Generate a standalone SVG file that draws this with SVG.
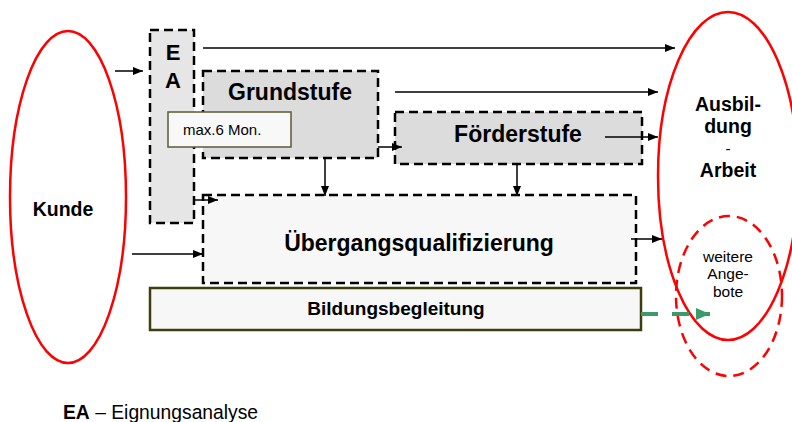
<svg xmlns="http://www.w3.org/2000/svg" width="792" height="422" viewBox="0 0 792 422">
<style>
text{font-family:"Liberation Sans",Arial,sans-serif;fill:#000}
.b{font-weight:bold}
.dbox{stroke:#000;stroke-width:2.5;stroke-dasharray:9 5}
.ln{stroke:#000;stroke-width:1.5;fill:none}
.red{fill:none;stroke:#ff0000;stroke-width:2.5}
</style>
<defs>
<marker id="ah" viewBox="0 0 10 8" refX="10" refY="4" markerWidth="10" markerHeight="8" markerUnits="userSpaceOnUse" orient="auto">
<path d="M0,0 L10,4 L0,8 Z" fill="#000"/>
</marker>
<marker id="gh" viewBox="0 0 14 12" refX="14" refY="6" markerWidth="14" markerHeight="12" markerUnits="userSpaceOnUse" orient="auto">
<path d="M0,0 L14,6 L0,12 Z" fill="#3a9a6a"/>
</marker>
</defs>
<rect width="792" height="422" fill="#fff"/>
<g id="kunde">
<ellipse cx="68" cy="197" rx="58" ry="166" class="red"/>
<text x="63" y="216" class="b" font-size="19.5" text-anchor="middle">Kunde</text>
</g>
<g id="ausbildung">
<ellipse cx="728" cy="176" rx="70" ry="164" class="red"/>
<text x="728" y="111" class="b" font-size="19.5" text-anchor="middle">Ausbil-</text>
<text x="728" y="133" class="b" font-size="19.5" text-anchor="middle">dung</text>
<text x="728" y="154" font-size="15" text-anchor="middle">-</text>
<text x="728" y="177" class="b" font-size="19.5" text-anchor="middle">Arbeit</text>
</g>
<g id="weitere">
<ellipse cx="729" cy="296" rx="53" ry="80" fill="none" stroke="#ff0000" stroke-width="2.5" stroke-dasharray="11 7"/>
<text x="728" y="262" font-size="15.5" text-anchor="middle">weitere</text>
<text x="728" y="279" font-size="15.5" text-anchor="middle">Ange-</text>
<text x="728" y="297" font-size="15.5" text-anchor="middle">bote</text>
</g>
<g id="ea">
<rect x="150" y="30" width="44" height="193" fill="#e6e6e6" class="dbox"/>
<text x="173" y="60" class="b" font-size="22" text-anchor="middle">E</text>
<text x="173" y="88" class="b" font-size="22" text-anchor="middle">A</text>
</g>
<g id="grundstufe">
<rect x="203" y="71" width="175" height="87" fill="#dcdcdc" class="dbox"/>
<text x="290" y="100" class="b" font-size="23" text-anchor="middle">Grundstufe</text>
</g>
<g id="maxmon">
<rect x="168" y="112" width="123" height="35" fill="#f8f8f8" stroke="#5a5a32" stroke-width="1.5"/>
<text x="183" y="135" font-size="15">max.6 Mon.</text>
</g>
<g id="foerderstufe">
<rect x="395" y="112" width="247" height="52" fill="#dcdcdc" class="dbox"/>
<text x="518" y="142" class="b" font-size="23" text-anchor="middle">Förderstufe</text>
</g>
<g id="uebergang">
<rect x="203" y="195" width="433" height="88" fill="#f7f7f7" class="dbox"/>
<text x="419" y="251" class="b" font-size="23" text-anchor="middle">Übergangsqualifizierung</text>
</g>
<g id="bildung">
<rect x="150" y="288" width="491" height="42" fill="#f7f7f7" stroke="#3d3d10" stroke-width="2.5"/>
<text x="396" y="315" class="b" font-size="19" text-anchor="middle">Bildungsbegleitung</text>
</g>
<g id="connectors">
<line x1="115" y1="71" x2="143" y2="71" class="ln" marker-end="url(#ah)"/>
<line x1="203" y1="48" x2="675" y2="48" class="ln" marker-end="url(#ah)"/>
<line x1="395" y1="92" x2="658" y2="92" class="ln" marker-end="url(#ah)"/>
<line x1="605" y1="137" x2="658" y2="137" class="ln" marker-end="url(#ah)"/>
<line x1="378" y1="147" x2="402" y2="147" class="ln" marker-end="url(#ah)"/>
<line x1="325" y1="158" x2="325" y2="196" class="ln" marker-end="url(#ah)"/>
<line x1="517" y1="164" x2="517" y2="196" class="ln" marker-end="url(#ah)"/>
<line x1="194" y1="200" x2="218" y2="200" class="ln" marker-end="url(#ah)"/>
<line x1="132" y1="254" x2="203" y2="254" class="ln" marker-end="url(#ah)"/>
<line x1="631" y1="239" x2="662" y2="239" class="ln" marker-end="url(#ah)"/>
<line x1="641" y1="314" x2="710" y2="314" stroke="#3a9a6a" stroke-width="4" stroke-dasharray="17 14" marker-end="url(#gh)"/>
</g>
<g id="legend">
<text x="63" y="419" font-size="19.3"><tspan class="b">EA</tspan> – Eignungsanalyse</text>
</g>
</svg>
